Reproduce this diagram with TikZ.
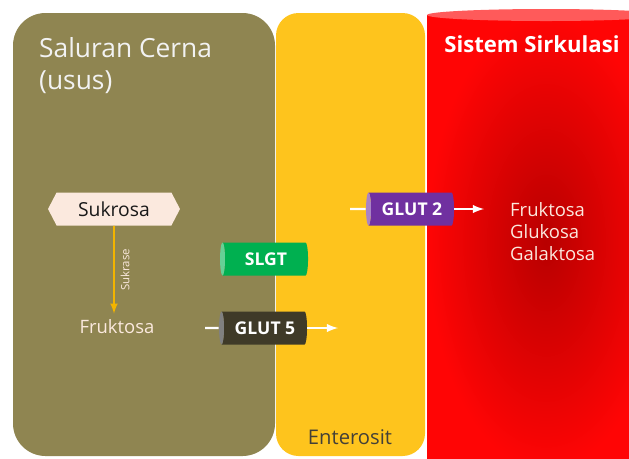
\documentclass[tikz,border=0pt]{standalone}
\usepackage{fontspec}
\setmainfont{Open Sans}
\usetikzlibrary{shapes.geometric,shapes.symbols}
\definecolor{cerna}{HTML}{8F8551}
\definecolor{entero}{HTML}{FEC41D}
\definecolor{darah}{HTML}{FF0505}
\definecolor{darahtua}{HTML}{B80000}
\definecolor{darahatas}{HTML}{FF5A5A}
\definecolor{teksputih}{HTML}{FBE9DE}
\definecolor{panah}{HTML}{F2B400}
\definecolor{slgthijau}{HTML}{00B050}
\definecolor{glutungu}{HTML}{7030A0}
\definecolor{glutgelap}{HTML}{3F3A28}
\begin{document}
\begin{tikzpicture}[
		x=0.02cm, y=-0.02cm,
		every node/.style={
				font=\fontsize{10.5}{12.5}\selectfont,
			},
		transporter/.style={cylinder, shape border rotate=180, shape aspect=0.3,
				cylinder uses custom fill, minimum width=0.66cm, minimum height=1.76cm,
				inner sep=1pt, text=white, font=\bfseries\fontsize{10}{11}\selectfont},
		wire/.style={white, line width=1.2pt},]
	\useasboundingbox (0,0) rectangle (629,458);
	\clip (0,0) rectangle (629,458);
	% the three compartments
	\fill[cerna, rounded corners=0.65cm] (13,13) rectangle (275,456);
	\fill[entero, rounded corners=0.45cm] (276,13) rectangle (425,456);
	\fill[inner color=darahtua, outer color=darah] (427,15) rectangle (665,470);
	\fill[darahatas] (546,15) ellipse [x radius=2.38cm, y radius=0.12cm];

	\node[anchor=north west, align=left, text=white!95!black,
		font=\fontsize{15}{18.5}\selectfont] (cerna) at (33,31) {Saluran Cerna\\(usus)};
	\node[text=white, font=\bfseries\fontsize{12.6}{15}\selectfont] (sirkulasi) at (532,44) {Sistem Sirkulasi};
	\node[text=black!85!yellow, font=\fontsize{11.5}{13}\selectfont] (enterosit) at (350,437) {Enterosit};

	\node[signal, signal to=west and east, signal pointer angle=125, fill=teksputih,
		minimum width=2.64cm, minimum height=0.66cm, text=black!90,
		font=\fontsize{11}{13}\selectfont] (sukrosa) at (114,209) {Sukrosa};
	\node[text=teksputih] (fruktosa) at (117,327) {Fruktosa};
	\draw[panah, line width=1pt, -latex] (sukrosa) -- (fruktosa.north -| sukrosa)
	node[midway, sloped, below, text=teksputih, font=\fontsize{6.5}{7}\selectfont] {Sukrase};

	\node[transporter, cylinder body fill=slgthijau, cylinder end fill=slgthijau!60!white] (slgt) at (266,259) {SLGT};
	\node[transporter, cylinder body fill=glutgelap, cylinder end fill=gray] (glut5) at (265,328) {GLUT 5};
	\node[transporter, cylinder body fill=glutungu, cylinder end fill=glutungu!60!white] (glut2) at (412,209) {GLUT 2};

	\coordinate (g5in) at (205,328);
	\coordinate (g5out) at (338,328);
	\coordinate (g2in) at (350,209);
	\coordinate (g2out) at (484,209);
	\draw[wire] (g5in) -- (glut5);
	\draw[wire, -latex] (glut5) -- (g5out);
	\draw[wire] (g2in) -- (glut2);
	\draw[wire, -latex] (glut2) -- (g2out);

	\node[anchor=north west, align=left, text=teksputih] (hasil) at (504,196) {Fruktosa\\Glukosa\\Galaktosa};
\end{tikzpicture}
\end{document}
